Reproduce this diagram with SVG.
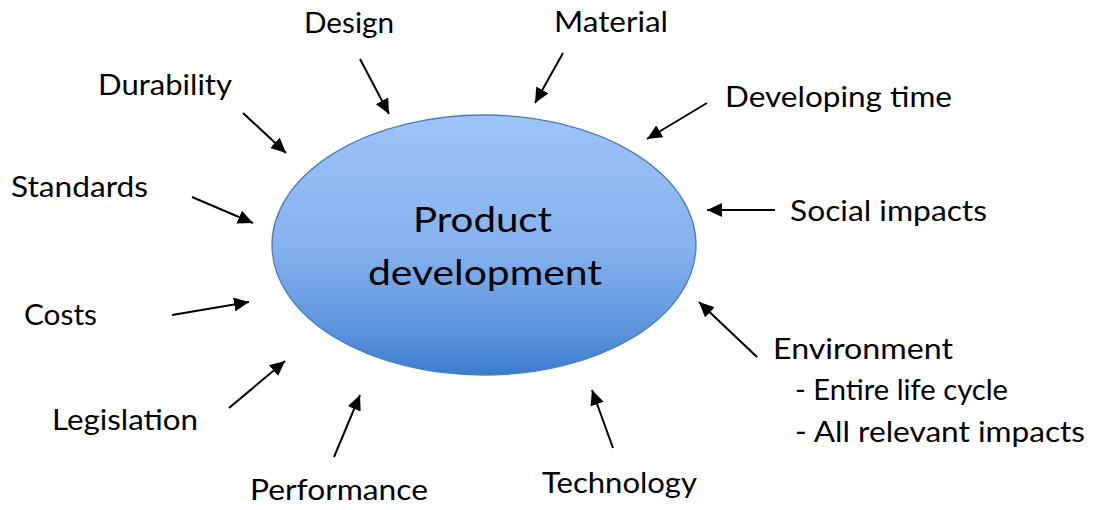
<svg xmlns="http://www.w3.org/2000/svg" width="1096" height="510" viewBox="0 0 1096 510">
  <defs>
    <linearGradient id="fillGrad" x1="0" y1="0" x2="0" y2="1">
      <stop offset="0" stop-color="#9FC4F8"/>
      <stop offset="0.5" stop-color="#86B2EE"/>
      <stop offset="0.85" stop-color="#5A92DC"/>
      <stop offset="1" stop-color="#3B7BCF"/>
    </linearGradient>
    <marker id="arrow" markerUnits="userSpaceOnUse" markerWidth="16" markerHeight="14" refX="15" refY="7" orient="auto">
      <path d="M0,0 L15,7 L0,14 Z" fill="#000"/>
    </marker>
  </defs>
  <style>
    .lbl { font-family: Lato, "Open Sans", "Liberation Sans", sans-serif; font-size: 28px; fill: #000; }
    .ctr { font-family: Lato, "Open Sans", "Liberation Sans", sans-serif; font-size: 35px; fill: #000; }
    .arr { stroke: #000; stroke-width: 2; fill: none; marker-end: url(#arrow); }
  </style>
  <rect width="1096" height="510" fill="#FFFFFF"/>

  <g id="center">
    <ellipse cx="484" cy="245" rx="212" ry="130" fill="url(#fillGrad)" stroke="#4A7EBB" stroke-width="1.3"/>
    <text class="ctr" x="413" y="232" textLength="139" lengthAdjust="spacingAndGlyphs">Product</text>
    <text class="ctr" x="368" y="285" textLength="234" lengthAdjust="spacingAndGlyphs">development</text>
  </g>

  <g id="design"><text class="lbl" x="304" y="33" textLength="90" lengthAdjust="spacingAndGlyphs">Design</text></g>
  <g id="material"><text class="lbl" x="554" y="32" textLength="114" lengthAdjust="spacingAndGlyphs">Material</text></g>
  <g id="durability"><text class="lbl" x="98" y="95" textLength="134" lengthAdjust="spacingAndGlyphs">Durability</text></g>
  <g id="developing-time"><text class="lbl" x="725" y="107" textLength="227" lengthAdjust="spacingAndGlyphs">Developing time</text></g>
  <g id="standards"><text class="lbl" x="11" y="197" textLength="137" lengthAdjust="spacingAndGlyphs">Standards</text></g>
  <g id="social-impacts"><text class="lbl" x="790" y="221" textLength="197" lengthAdjust="spacingAndGlyphs">Social impacts</text></g>
  <g id="costs"><text class="lbl" x="24" y="325" textLength="73" lengthAdjust="spacingAndGlyphs">Costs</text></g>
  <g id="legislation"><text class="lbl" x="52" y="430" textLength="146" lengthAdjust="spacingAndGlyphs">Legislation</text></g>
  <g id="performance"><text class="lbl" x="250" y="500" textLength="178" lengthAdjust="spacingAndGlyphs">Performance</text></g>
  <g id="technology"><text class="lbl" x="542" y="493" textLength="155" lengthAdjust="spacingAndGlyphs">Technology</text></g>
  <g id="environment">
    <text class="lbl" x="773" y="359" textLength="180" lengthAdjust="spacingAndGlyphs">Environment</text>
    <text class="lbl" x="795" y="400" textLength="213" lengthAdjust="spacingAndGlyphs">- Entire life cycle</text>
    <text class="lbl" x="795" y="442" textLength="290" lengthAdjust="spacingAndGlyphs">- All relevant impacts</text>
  </g>

  <g id="connectors">
    <line class="arr" x1="360" y1="59" x2="389" y2="114"/>
    <line class="arr" x1="563" y1="53" x2="535" y2="103"/>
    <line class="arr" x1="243" y1="113" x2="286" y2="153"/>
    <line class="arr" x1="707" y1="103" x2="647" y2="139"/>
    <line class="arr" x1="192" y1="197" x2="253" y2="223"/>
    <line class="arr" x1="775" y1="210" x2="707" y2="210"/>
    <line class="arr" x1="172" y1="315" x2="249" y2="302"/>
    <line class="arr" x1="229" y1="408" x2="285" y2="361"/>
    <line class="arr" x1="334" y1="457" x2="360" y2="395"/>
    <line class="arr" x1="613" y1="448" x2="592" y2="390"/>
    <line class="arr" x1="757" y1="357" x2="699" y2="302"/>
  </g>
</svg>
